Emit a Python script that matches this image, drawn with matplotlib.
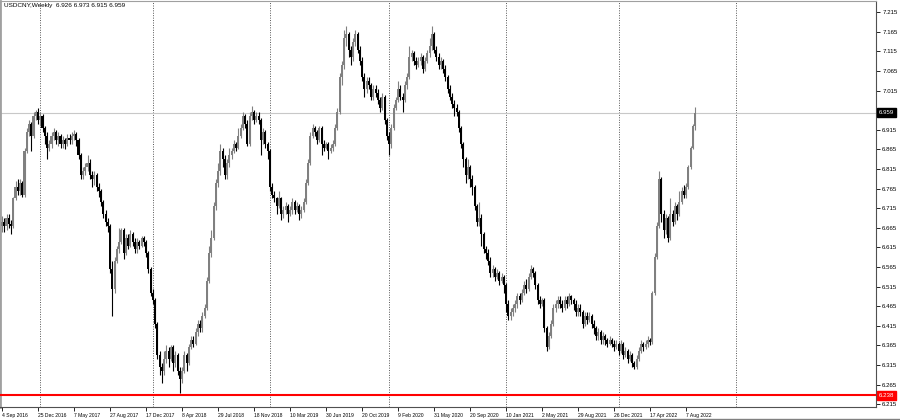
import matplotlib.pyplot as plt
import numpy as np
from matplotlib.lines import Line2D
from matplotlib.transforms import blended_transform_factory

plt.rcParams['font.family'] = ['Liberation Sans', 'DejaVu Sans']

symbol = "USDCNY,Weekly  6.926 6.973 6.915 6.959"

# weekly closes, one per bar (bar 0 = 4 Sep 2016)
closes = [
    6.68, 6.67, 6.69, 6.675, 6.67, 6.74, 6.77, 6.76, 6.78, 6.75,
    6.86, 6.91, 6.93, 6.90, 6.95, 6.96, 6.94, 6.95, 6.92, 6.90,
    6.87, 6.88, 6.90, 6.91, 6.89, 6.90, 6.88, 6.89, 6.88, 6.895,
    6.89, 6.90, 6.905, 6.89, 6.85, 6.80, 6.81, 6.82, 6.83, 6.80,
    6.79, 6.80, 6.77, 6.76, 6.73, 6.70, 6.68, 6.67, 6.56, 6.51,
    6.58, 6.61, 6.63, 6.66, 6.60, 6.64, 6.62, 6.65, 6.63, 6.61,
    6.63, 6.62, 6.64, 6.63, 6.60, 6.56, 6.50, 6.48, 6.42, 6.34,
    6.31, 6.30, 6.33, 6.35, 6.33, 6.36, 6.32, 6.34, 6.30, 6.28,
    6.30, 6.34, 6.32, 6.36, 6.38, 6.37, 6.40, 6.42, 6.41, 6.44,
    6.46, 6.53, 6.60, 6.64, 6.72, 6.78, 6.81, 6.86, 6.84, 6.80,
    6.83, 6.85, 6.86, 6.88, 6.87, 6.90, 6.92, 6.95, 6.93, 6.88,
    6.95, 6.96, 6.94, 6.95, 6.94, 6.89, 6.91, 6.88, 6.86, 6.77,
    6.75, 6.74, 6.72, 6.74, 6.70, 6.71, 6.72, 6.70, 6.71, 6.73,
    6.71, 6.72, 6.70, 6.71, 6.73, 6.78, 6.83, 6.90, 6.92, 6.91,
    6.89, 6.92, 6.88, 6.87, 6.88, 6.86, 6.87, 6.88, 6.92, 6.96,
    7.05, 7.08, 7.15, 7.16, 7.12, 7.10, 7.14, 7.16, 7.12, 7.09,
    7.05, 7.02, 7.04, 7.03, 7.00, 7.02, 7.01, 6.99, 6.97, 7.00,
    6.94, 6.90, 6.88, 6.92, 6.97, 6.99, 7.02, 7.00, 6.99, 7.03,
    7.05, 7.10, 7.11, 7.09, 7.08, 7.09, 7.10, 7.07, 7.09, 7.11,
    7.13, 7.16, 7.12, 7.10, 7.08, 7.09, 7.07, 7.05, 7.02, 7.00,
    6.98, 6.97, 6.96, 6.92, 6.88, 6.84, 6.80, 6.82, 6.79, 6.77,
    6.72, 6.68, 6.69, 6.65, 6.61, 6.60, 6.58, 6.55, 6.56, 6.54,
    6.55, 6.53, 6.54, 6.52, 6.47, 6.44, 6.45, 6.46, 6.47, 6.49,
    6.48, 6.50, 6.52, 6.51, 6.54, 6.56, 6.55, 6.52, 6.48, 6.47,
    6.48, 6.41, 6.36, 6.39, 6.42, 6.46, 6.47, 6.48, 6.47, 6.46,
    6.48, 6.47, 6.49, 6.48, 6.47, 6.45, 6.46, 6.45, 6.42, 6.44,
    6.43, 6.44, 6.42, 6.41, 6.39, 6.40, 6.38, 6.39, 6.38, 6.37,
    6.38, 6.37, 6.36, 6.37, 6.35, 6.37, 6.34, 6.35, 6.33, 6.34,
    6.32, 6.31, 6.33, 6.35, 6.37, 6.36, 6.37, 6.38, 6.375, 6.50,
    6.59, 6.67, 6.79, 6.70, 6.66, 6.69, 6.64, 6.70, 6.68, 6.72,
    6.70, 6.73, 6.76, 6.75, 6.77, 6.82, 6.87, 6.926, 6.959,
]

highs = [
    6.695, 6.69, 6.70, 6.70, 6.685, 6.745, 6.785, 6.79, 6.79, 6.785,
    6.87, 6.92, 6.94, 6.935, 6.96, 6.965, 6.97, 6.96, 6.955, 6.925,
    6.91, 6.89, 6.91, 6.92, 6.915, 6.91, 6.905, 6.90, 6.895, 6.905,
    6.905, 6.91, 6.915, 6.91, 6.895, 6.855, 6.82, 6.83, 6.85, 6.84,
    6.81, 6.81, 6.805, 6.78, 6.765, 6.735, 6.71, 6.69, 6.675, 6.58,
    6.59, 6.62, 6.665, 6.665, 6.665, 6.65, 6.65, 6.66, 6.655, 6.64,
    6.64, 6.635, 6.645, 6.645, 6.635, 6.605, 6.565, 6.51, 6.485, 6.425,
    6.35, 6.32, 6.35, 6.365, 6.36, 6.365, 6.365, 6.35, 6.345, 6.31,
    6.31, 6.35, 6.345, 6.37, 6.39, 6.39, 6.41, 6.43, 6.43, 6.45,
    6.47, 6.54, 6.62, 6.66, 6.73, 6.79, 6.83, 6.88, 6.87, 6.85,
    6.84, 6.87, 6.87, 6.89, 6.885, 6.92, 6.93, 6.96, 6.955, 6.94,
    6.96, 6.975, 6.965, 6.96, 6.96, 6.945, 6.92, 6.915, 6.885, 6.865,
    6.78, 6.76, 6.745, 6.76, 6.745, 6.72, 6.73, 6.725, 6.72, 6.74,
    6.735, 6.73, 6.725, 6.72, 6.74, 6.79, 6.84, 6.91, 6.93, 6.925,
    6.915, 6.925, 6.925, 6.89, 6.885, 6.885, 6.88, 6.89, 6.93, 6.97,
    7.06, 7.09, 7.17, 7.18, 7.165, 7.13, 7.15, 7.17, 7.165, 7.13,
    7.10, 7.06, 7.05, 7.05, 7.035, 7.03, 7.03, 7.02, 7.00, 7.01,
    7.005, 6.945, 6.91, 6.93, 6.98, 7.00, 7.04, 7.03, 7.01, 7.04,
    7.06, 7.13, 7.12, 7.115, 7.10, 7.10, 7.11, 7.105, 7.10, 7.12,
    7.15, 7.18, 7.165, 7.13, 7.11, 7.10, 7.095, 7.08, 7.055, 7.03,
    7.01, 6.99, 6.98, 6.965, 6.925, 6.885, 6.845, 6.84, 6.825, 6.80,
    6.775, 6.725, 6.73, 6.70, 6.655, 6.62, 6.61, 6.59, 6.57, 6.565,
    6.56, 6.555, 6.55, 6.545, 6.525, 6.48, 6.46, 6.47, 6.48, 6.50,
    6.50, 6.51, 6.53, 6.535, 6.55, 6.57, 6.565, 6.555, 6.525, 6.49,
    6.485, 6.485, 6.415, 6.40, 6.43, 6.47, 6.48, 6.49, 6.49, 6.48,
    6.49, 6.49, 6.50, 6.495, 6.485, 6.48, 6.47, 6.47, 6.455, 6.45,
    6.45, 6.45, 6.445, 6.43, 6.415, 6.41, 6.405, 6.40, 6.395, 6.385,
    6.39, 6.385, 6.38, 6.38, 6.375, 6.38, 6.375, 6.36, 6.355, 6.35,
    6.345, 6.325, 6.34, 6.36, 6.38, 6.375, 6.38, 6.39, 6.385, 6.505,
    6.60, 6.68, 6.81, 6.795, 6.71, 6.70, 6.695, 6.74, 6.71, 6.73,
    6.725, 6.76, 6.77, 6.775, 6.78, 6.825, 6.875, 6.93, 6.973,
]

lows = [
    6.655, 6.655, 6.66, 6.665, 6.65, 6.665, 6.735, 6.75, 6.75, 6.745,
    6.745, 6.855, 6.90, 6.86, 6.895, 6.94, 6.93, 6.925, 6.91, 6.88,
    6.84, 6.86, 6.87, 6.89, 6.88, 6.875, 6.87, 6.87, 6.865, 6.875,
    6.88, 6.88, 6.89, 6.875, 6.84, 6.79, 6.79, 6.80, 6.81, 6.79,
    6.77, 6.775, 6.76, 6.745, 6.72, 6.69, 6.67, 6.655, 6.55, 6.44,
    6.50, 6.575, 6.60, 6.625, 6.585, 6.595, 6.61, 6.615, 6.62, 6.60,
    6.60, 6.61, 6.615, 6.62, 6.59, 6.55, 6.49, 6.47, 6.41, 6.33,
    6.29, 6.27, 6.29, 6.32, 6.31, 6.325, 6.30, 6.31, 6.29, 6.245,
    6.27, 6.295, 6.30, 6.315, 6.355, 6.36, 6.365, 6.39, 6.40, 6.40,
    6.435, 6.455, 6.525, 6.59, 6.635, 6.71, 6.77, 6.80, 6.82, 6.79,
    6.79, 6.82, 6.84, 6.855, 6.86, 6.865, 6.895, 6.915, 6.92, 6.875,
    6.875, 6.94, 6.93, 6.935, 6.93, 6.85, 6.88, 6.87, 6.84, 6.76,
    6.74, 6.73, 6.70, 6.715, 6.685, 6.69, 6.70, 6.68, 6.695, 6.70,
    6.70, 6.705, 6.685, 6.69, 6.705, 6.725, 6.775, 6.825, 6.895, 6.90,
    6.88, 6.885, 6.85, 6.86, 6.865, 6.84, 6.855, 6.86, 6.875, 6.915,
    6.955, 7.03, 7.07, 7.13, 7.10, 7.08, 7.09, 7.13, 7.11, 7.08,
    7.04, 7.00, 7.01, 7.02, 6.99, 6.99, 7.00, 6.98, 6.96, 6.965,
    6.93, 6.89, 6.85, 6.87, 6.915, 6.965, 6.985, 6.99, 6.96, 6.985,
    7.02, 7.045, 7.09, 7.08, 7.07, 7.075, 7.08, 7.06, 7.065, 7.085,
    7.10, 7.12, 7.11, 7.09, 7.07, 7.07, 7.06, 7.04, 7.01, 6.99,
    6.97, 6.95, 6.95, 6.91, 6.87, 6.82, 6.78, 6.79, 6.77, 6.75,
    6.71, 6.67, 6.67, 6.62, 6.60, 6.585, 6.57, 6.54, 6.54, 6.53,
    6.535, 6.52, 6.525, 6.50, 6.45, 6.43, 6.43, 6.44, 6.45, 6.46,
    6.47, 6.475, 6.495, 6.50, 6.505, 6.535, 6.54, 6.51, 6.47, 6.46,
    6.465, 6.40, 6.35, 6.355, 6.385, 6.415, 6.45, 6.46, 6.46, 6.45,
    6.455, 6.46, 6.465, 6.47, 6.455, 6.44, 6.44, 6.44, 6.41, 6.415,
    6.42, 6.425, 6.41, 6.395, 6.38, 6.38, 6.37, 6.37, 6.365, 6.36,
    6.365, 6.36, 6.35, 6.355, 6.34, 6.345, 6.33, 6.335, 6.32, 6.325,
    6.31, 6.305, 6.305, 6.325, 6.345, 6.35, 6.355, 6.36, 6.365, 6.37,
    6.495, 6.585, 6.665, 6.68, 6.64, 6.65, 6.63, 6.635, 6.67, 6.675,
    6.685, 6.695, 6.725, 6.74, 6.74, 6.765, 6.815, 6.865, 6.915,
]

first_open = 6.67
opens = [first_open] + closes[:-1]

date_labels = ["4 Sep 2016", "25 Dec 2016", "7 May 2017", "27 Aug 2017", "17 Dec 2017",
               "8 Apr 2018", "29 Jul 2018", "18 Nov 2018", "10 Mar 2019", "30 Jun 2019",
               "20 Oct 2019", "9 Feb 2020", "31 May 2020", "20 Sep 2020", "10 Jan 2021",
               "2 May 2021", "29 Aug 2021", "26 Dec 2021", "17 Apr 2022", "7 Aug 2022"]
label_step = 16
year_separators = [17, 67, 119, 172, 224, 274, 326]

bid_price = 6.959
level_price = 6.238

fig = plt.figure(figsize=(9, 4.2), dpi=100)
ax = fig.add_axes([0, 13 / 420, 876 / 900, 406 / 420])

idx = np.arange(len(closes))
o = np.array(opens)
c = np.array(closes)
h = np.array(highs)
l = np.array(lows)
up = c >= o
col = np.where(up, '#808080', '#000000')

ax.vlines(idx, l, h, colors=col, linewidth=0.8, zorder=3)
body_bot = np.minimum(o, c)
body_h = np.maximum(np.abs(c - o), 0.002)
ax.bar(idx, body_h, bottom=body_bot, width=0.9, color=col, linewidth=0, zorder=4)

for s in year_separators:
    ax.axvline(s, color='#555555', linestyle=(0, (1, 1.5)), linewidth=0.7, zorder=1)

ax.axhline(bid_price, color='#c8c8c8', linewidth=0.8, zorder=2)
ax.axhline(level_price, color='#ff0000', linewidth=1.5, zorder=5)

ax.set_xlim(-0.89, 388.4)
ax.set_ylim(6.2081, 7.2438)

yt = np.round(np.arange(6.215, 7.2151, 0.05), 3)
ax.yaxis.tick_right()
ax.set_yticks(yt)
ax.set_yticklabels([f"{v:.3f}" for v in yt])
ax.tick_params(axis='y', length=3, width=0.6, pad=1.5, labelsize=4.4, colors='#000000')

xt = np.arange(len(date_labels)) * label_step
ax.set_xticks(xt)
ax.set_xticklabels(date_labels)
for lab in ax.get_xticklabels():
    lab.set_horizontalalignment('left')
ax.tick_params(axis='x', length=3, width=0.6, pad=1, labelsize=3.6)

for sp in ['left', 'top']:
    ax.spines[sp].set_color('#a0a0a0')
ax.spines['left'].set_linewidth(2)
ax.spines['top'].set_linewidth(0.8)
ax.spines['right'].set_color('#505050')
ax.spines['bottom'].set_color('#505050')
ax.spines['right'].set_linewidth(0.8)
ax.spines['bottom'].set_linewidth(0.8)

tr = blended_transform_factory(ax.transAxes, ax.transData)
ax.text(1.003, bid_price, f"{bid_price:.3f}", transform=tr, fontsize=4.4, color='white',
        va='center', ha='left', zorder=10, clip_on=False,
        bbox=dict(boxstyle='square,pad=0.3', fc='black', ec='black'))
ax.text(1.003, level_price, f"{level_price:.3f}", transform=tr, fontsize=4.4, color='white',
        va='center', ha='left', zorder=10, clip_on=False,
        bbox=dict(boxstyle='square,pad=0.3', fc='#ff0000', ec='#ff0000'))

fig.text(4 / 900, 1 - 5 / 420, symbol, fontsize=4.6, va='center', ha='left')
fig.add_artist(Line2D([490 / 900, 1], [1 / 420, 1 / 420], color='#808080', linewidth=1))

fig.savefig('out.png', dpi=100)
